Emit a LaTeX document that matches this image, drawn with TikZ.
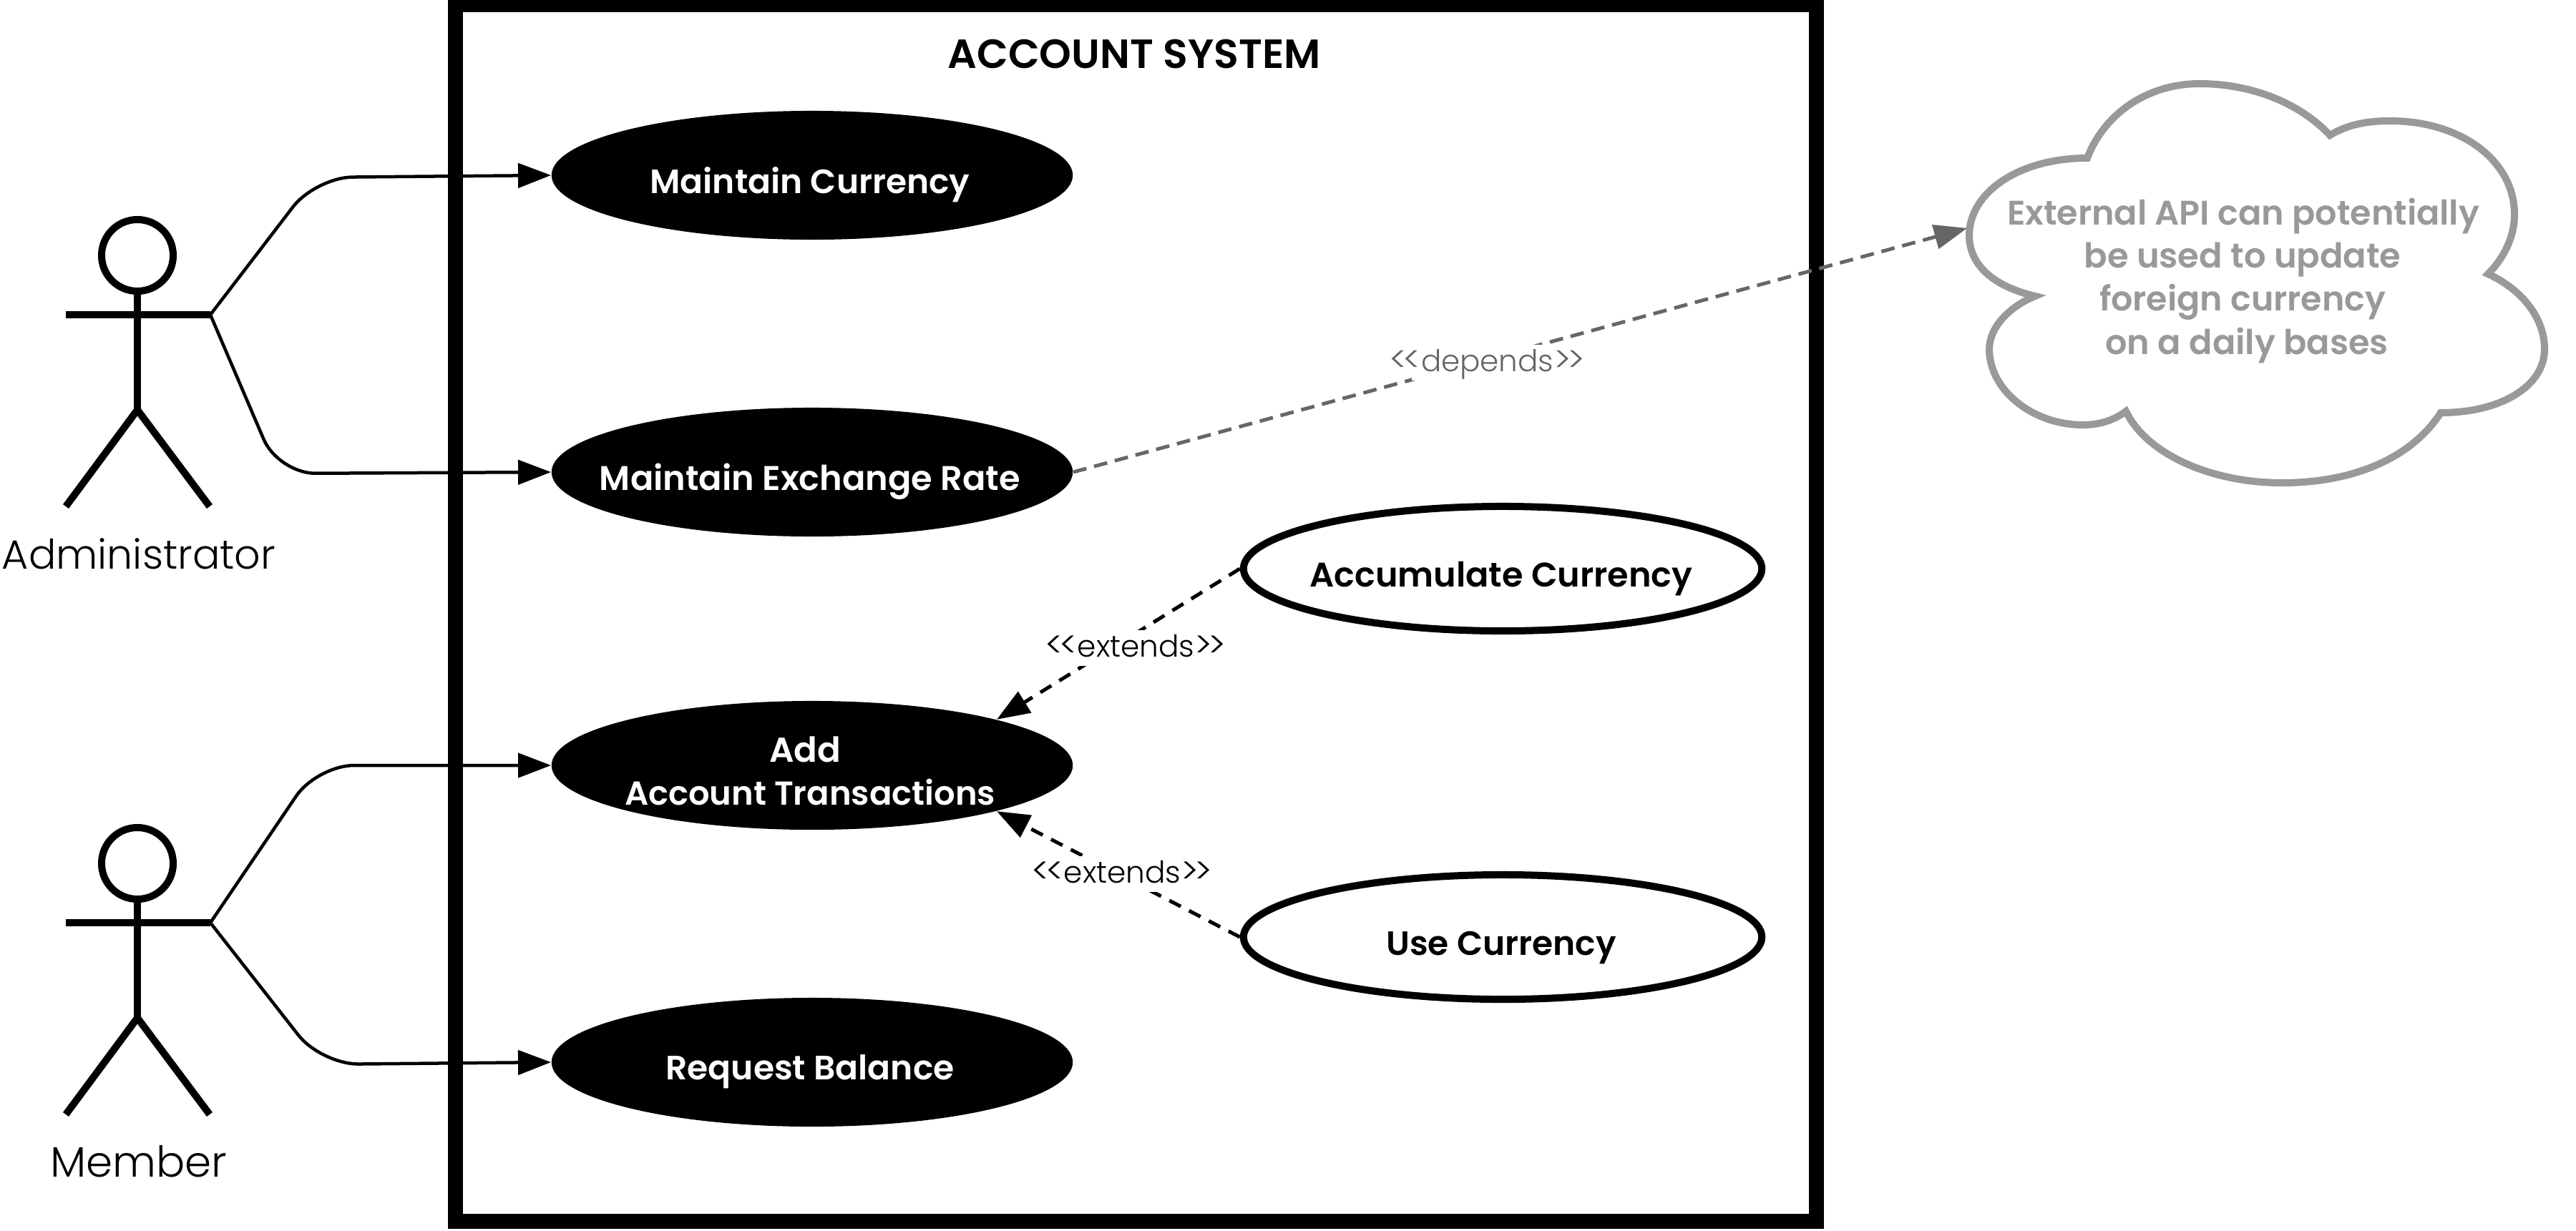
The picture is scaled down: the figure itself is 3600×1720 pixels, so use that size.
\documentclass[tikz,border=0pt]{standalone}
\usepackage{fontspec}
\usepackage{graphicx}
\usetikzlibrary{shapes.geometric,arrows.meta}
\setmainfont{Poppins}
\newfontfamily\lightf{Poppins Light}
\newfontfamily\semif{Poppins SemiBold}
\newdimen\pxu \pxu=0.01cm
% dx, dy from the node centre to the baseline centre, width, text
\newcommand\placed[4]{\makebox[0pt]{\kern#1\pxu\kern#1\pxu\raisebox{-#2\pxu}[0pt][0pt]{\resizebox{#3\pxu}{!}{#4}}}}
\newcommand\angl[1]{\kern-0.07em\raisebox{-0.08ex}{\scalebox{1.2}{#1}}\kern-0.07em}
\definecolor{cloudgray}{HTML}{999999}
\definecolor{depgray}{HTML}{666666}
\tikzset{
  x=0.01cm,y=-0.01cm,
  blackcase/.style={ellipse,fill=black,text=white,inner sep=0pt,minimum width=7.28cm,minimum height=1.8cm,font=\semif},
  whitecase/.style={ellipse,draw=black,line width=0.1cm,fill=white,text=black,inner sep=0pt,minimum width=7.24cm,minimum height=1.74cm,font=\semif},
  limb/.style={line width=0.1cm,draw=black},
  conn/.style={line width=0.045cm,draw=black,rounded corners=0.52cm,-{Triangle[length=4.6mm,width=3.4mm]}},
  ext/.style={line width=0.05cm,draw=black,dash pattern=on 0.18cm off 0.13cm,-{Triangle[length=4.6mm,width=3.4mm]}},
  dep/.style={line width=0.05cm,draw=depgray,dash pattern=on 0.19cm off 0.11cm,-{Triangle[length=4.6mm,width=3.4mm]}},
  linelabel/.style={fill=white,inner sep=0pt,minimum height=0.5cm,font=\lightf},
  actorname/.style={inner sep=0pt,font=\lightf},
}
\begin{document}
\begin{tikzpicture}
\useasboundingbox (0,0) rectangle (3600,1720);
\fill[white] (0,0) rectangle (3600,1720);
% system frame
\node[draw=black,line width=0.205cm,rectangle,inner sep=0pt,minimum width=19.01cm,minimum height=17cm] (frame) at (1587.5,857) {};
\node[inner sep=0pt,font=\semif] (title) at (1585,72) {\placed{0}{23}{521}{ACCOUNT SYSTEM}};
% use cases
\node[blackcase] (m1) at (1135,245) {\placed{-3}{25}{447}{Maintain Currency}};
\node[blackcase] (m2) at (1135,660) {\placed{-3}{25}{588}{Maintain Exchange Rate}};
\node[blackcase] (add) at (1135,1070) {\placed{-10}{-5}{100}{Add}\placed{-3}{55}{518}{Account Transactions}};
\node[blackcase] (m4) at (1135,1485) {\placed{-3}{24}{403}{Request Balance}};
\node[whitecase] (acc) at (2100,795) {\placed{-2}{25}{535}{Accumulate Currency}};
\node[whitecase] (use) at (2100,1310) {\placed{-2}{25}{321}{Use Currency}};
% cloud
\draw[cloudgray,line width=0.1cm,fill=white,line join=miter]
  (2917,221) .. controls (2940,160) and (3000,117) .. (3074,117)
  .. controls (3140,117) and (3210,140) .. (3256,189)
  .. controls (3280,175) and (3305,169) .. (3340,169)
  .. controls (3440,169) and (3514,225) .. (3514,300)
  .. controls (3514,330) and (3500,360) .. (3477,383)
  .. controls (3525,405) and (3556,445) .. (3556,488)
  .. controls (3556,540) and (3495,577) .. (3411,577)
  .. controls (3370,640) and (3290,675) .. (3189,675)
  .. controls (3090,675) and (3000,635) .. (2971,575)
  .. controls (2955,587) and (2935,594) .. (2911,594)
  .. controls (2840,594) and (2780,545) .. (2780,488)
  .. controls (2780,460) and (2805,430) .. (2844,414)
  .. controls (2785,400) and (2752,370) .. (2752,329)
  .. controls (2752,270) and (2820,221) .. (2917,221) -- cycle;
\coordinate (cloudpt) at (2749,319);
\node[inner sep=0pt,text=cloudgray,font=\semif] (cloudtext) at (3135,400) {\placed{0}{-86}{660}{External API can potentially}\placed{-1}{-26}{443}{be used to update}\placed{-1}{34}{400}{foreign currency}\placed{5}{95}{395}{on a daily bases}};
% actor Administrator
\draw[limb] (192,357) circle [radius=0.5cm];
\draw[limb] (192,407) -- (192,573);
\draw[limb] (92,440) -- (294,440);
\draw[limb] (92,708) -- (192,573) -- (293,708);
\coordinate (hand1) at (294,440);
\node[actorname] (admin) at (194,780) {\placed{0}{15}{382}{Administrator}};
% actor Member
\draw[limb] (192,1207) circle [radius=0.5cm];
\draw[limb] (192,1257) -- (192,1423);
\draw[limb] (92,1290) -- (294,1290);
\draw[limb] (92,1558) -- (192,1423) -- (293,1558);
\coordinate (hand2) at (294,1290);
\node[actorname] (member) at (194,1630) {\placed{0}{15}{247}{Member}};
% connectors
\draw[conn] (hand1) -- (441,248) -- (m1.west);
\draw[conn] (hand1) -- (389,662) -- (m2.west);
\draw[conn] (hand2) -- (443,1070) -- (add.west);
\draw[conn] (hand2) -- (449,1488) -- (m4.west);
\draw[ext] (acc.west) -- (add.north east);
\draw[ext] (use.west) -- (add.south east);
\draw[dep] (m2.east) -- (cloudpt);
\node[linelabel,minimum width=1.9cm] (l1) at (1587,906) {\placed{0}{12}{247}{\angl{<}\angl{<}\kern0.07em extends\kern0.07em\angl{>}\angl{>}}};
\node[linelabel,minimum width=1.9cm] (l2) at (1568,1222) {\placed{0}{12}{247}{\angl{<}\angl{<}\kern0.07em extends\kern0.07em\angl{>}\angl{>}}};
\node[linelabel,minimum width=2.1cm,text=depgray] (l3) at (2078,507) {\placed{0}{12}{268}{\angl{<}\angl{<}\kern0.07em depends\kern0.07em\angl{>}\angl{>}}};
\end{tikzpicture}
\end{document}
